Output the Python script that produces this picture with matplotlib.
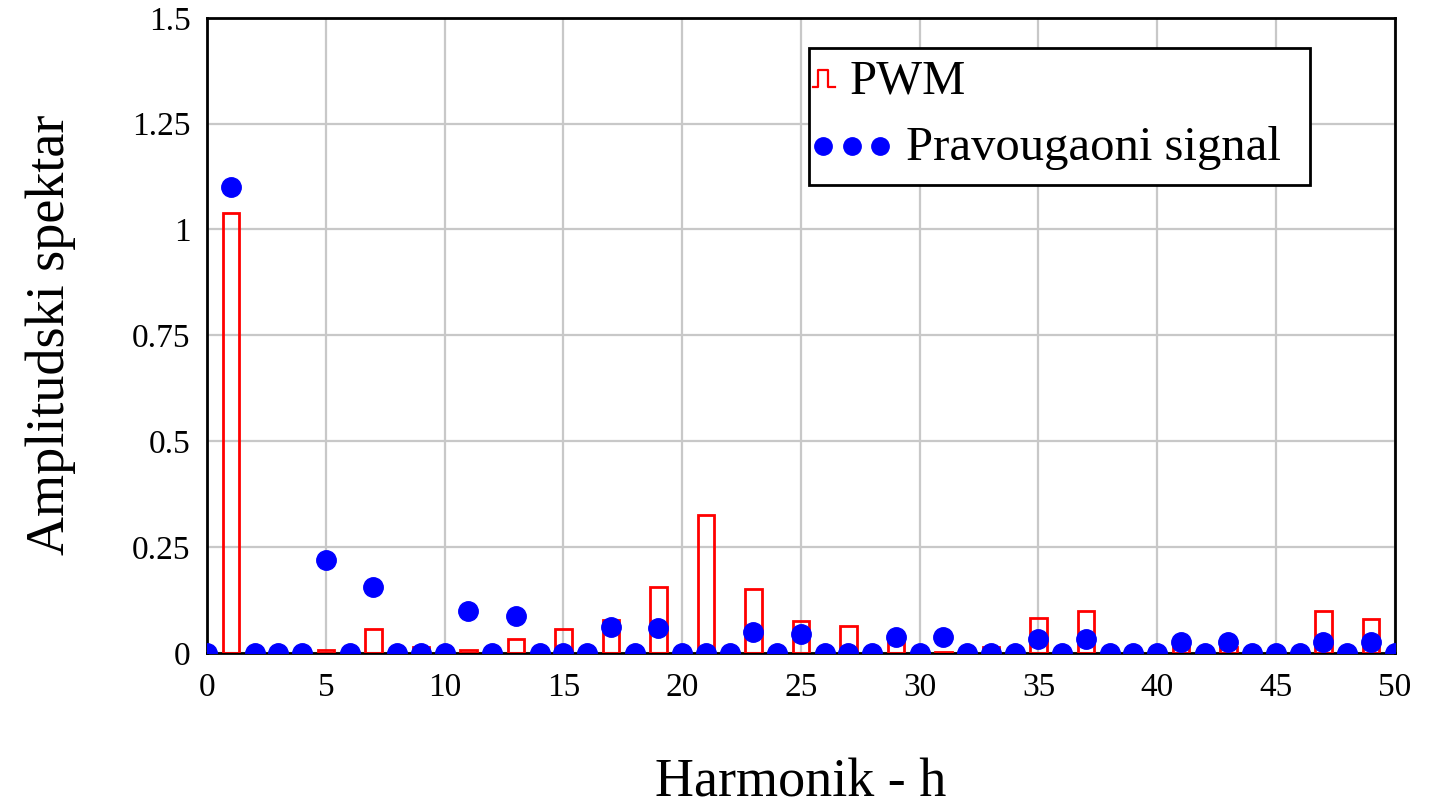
import matplotlib
matplotlib.use("Agg")
import matplotlib.pyplot as plt
from matplotlib.patches import Rectangle

# harmonic orders
h_dots = list(range(0, 51))
h_bars = list(range(1, 50, 2))

# rectangular (six-step) signal spectrum
dot_nonzero = {1: 1.10, 5: 0.22, 7: 0.156, 11: 0.099, 13: 0.088, 17: 0.061,
               19: 0.059, 23: 0.050, 25: 0.045, 29: 0.038, 31: 0.038,
               35: 0.033, 37: 0.033, 41: 0.026, 43: 0.026, 47: 0.026, 49: 0.026}
rect_vals = [dot_nonzero.get(h, 0.0) for h in h_dots]

# PWM spectrum (odd harmonics 1..49)
pwm_vals = [1.038, 0.0, 0.007, 0.057, 0.015, 0.007, 0.033, 0.057, 0.078,
            0.156, 0.326, 0.151, 0.076, 0.064, 0.030, 0.003, 0.015, 0.083,
            0.100, 0.0, 0.015, 0.015, 0.0, 0.100, 0.080]

x_ticks = [0, 5, 10, 15, 20, 25, 30, 35, 40, 45, 50]
y_ticks = [0, 0.25, 0.5, 0.75, 1.0, 1.25, 1.5]
y_tick_labels = ["0", "0.25", "0.5", "0.75", "1", "1.25", "1.5"]

plt.rcParams["font.family"] = ["Liberation Serif", "DejaVu Serif"]

fig = plt.figure(figsize=(14.29, 8.07), dpi=100)
ax = fig.add_axes([0.145, 0.191, 0.831, 0.787])

ax.bar(h_bars, pwm_vals, width=0.7, fill=False, edgecolor="#ff0000",
       linewidth=2, zorder=3)
ax.plot(h_dots, rect_vals, linestyle="none", marker="o", markersize=14,
        color="#0000ff", zorder=4)

ax.set_xlim(0, 50)
ax.set_ylim(0, 1.5)
ax.set_xticks(x_ticks)
ax.set_yticks(y_ticks)
ax.set_yticklabels(y_tick_labels)
ax.tick_params(axis="both", length=0, labelsize=24)
ax.tick_params(axis="x", pad=14)
ax.tick_params(axis="y", pad=12)
ax.grid(True, color="#c8c8c8", linewidth=1.6, zorder=0)
ax.set_axisbelow(True)
for sp in ax.spines.values():
    sp.set_linewidth(2)
    sp.set_color("black")

ax.set_xlabel("Harmonik - h", fontsize=39, labelpad=40)
ax.set_ylabel("Amplitudski spektar", fontsize=39, labelpad=40)

# Mathcad-style legend box: each label sits right after its own sample
tr = ax.transAxes
ax.add_patch(Rectangle((0.5067, 0.737), 0.4218, 0.216, transform=tr,
                       facecolor="white", edgecolor="black", linewidth=2,
                       zorder=10))
ax.plot([0.5101, 0.5145, 0.5145, 0.5226, 0.5226, 0.5286],
        [0.891, 0.891, 0.918, 0.918, 0.891, 0.891], transform=tr,
        color="#ff0000", linewidth=1.6, clip_on=False, zorder=11)
ax.text(0.5412, 0.880, "PWM", transform=tr, fontsize=35, va="baseline",
        ha="left", zorder=11)
ax.plot([0.5185, 0.5429, 0.5665], [0.798, 0.798, 0.798], transform=tr,
        linestyle="none", marker="o", markersize=12.5, color="#0000ff",
        clip_on=False, zorder=11)
ax.text(0.5884, 0.776, "Pravougaoni signal", transform=tr, fontsize=35,
        va="baseline", ha="left", zorder=11)

fig.savefig("out.png", dpi=100)
